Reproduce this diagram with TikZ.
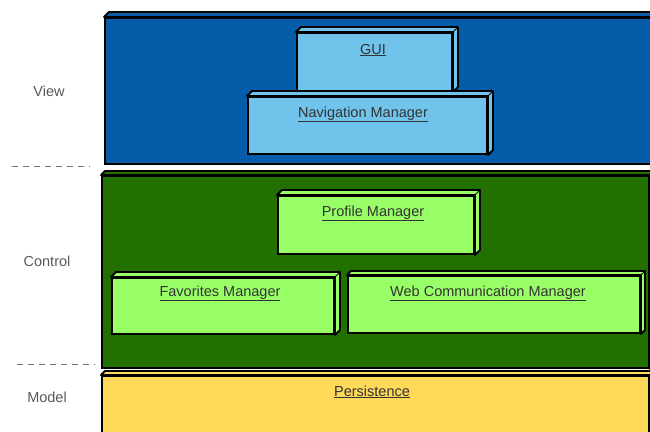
\documentclass[tikz,border=0pt]{standalone}
\usepackage{fontspec}
\setmainfont{Liberation Sans}
\definecolor{viewblue}{RGB}{5,92,168}
\definecolor{partblue}{RGB}{112,196,236}
\definecolor{ctrlgreen}{RGB}{34,112,0}
\definecolor{partgreen}{RGB}{153,255,102}
\definecolor{modelyellow}{RGB}{255,217,90}
\tikzset{
  layer/.style={draw=black, line width=2.2pt, anchor=north west, inner sep=0pt},
  part/.style={draw=black, line width=2pt, anchor=north west, inner sep=0pt},
  partlabel/.style={font=\fontsize{14.5}{17}\selectfont, text=black!80, anchor=base},
  side/.style={font=\fontsize{14.5}{17}\selectfont, text=black!65},
  sep/.style={dash pattern=on 6pt off 5pt, line width=1pt, draw=black!55}
}
% depth faces (top and right) of a 3D box node: #1 node, #2 depth, #3 fill
\newcommand\boxdepth[3]{%
  \filldraw[fill=#3, draw=black, line width=1.8pt, line join=round]
    (#1.north west) -- ++(#2,-#2) -- ([shift={(#2,-#2)}]#1.north east)
    -- ([shift={(#2,-#2)}]#1.south east) -- (#1.south east) -- (#1.north east) -- cycle;
  \draw[line width=1pt] (#1.north east) -- ++(#2,-#2);
}
\begin{document}
\begin{tikzpicture}[x=1pt,y=-1pt]
\useasboundingbox (0,0) rectangle (650,431);
\clip (0,0) rectangle (650,431);
\fill[white] (0,0) rectangle (650,431);

% layer boxes
\node[layer, fill=viewblue, minimum width=560pt, minimum height=146pt] (view) at (104,17) {};
\boxdepth{view}{5}{viewblue}
\node[layer, fill=ctrlgreen, minimum width=547pt, minimum height=192pt] (control) at (101,175) {};
\boxdepth{control}{4}{ctrlgreen}
\node[layer, fill=modelyellow, minimum width=547pt, minimum height=70pt] (model) at (101,375) {};
\boxdepth{model}{4}{modelyellow}

% view components
\node[part, fill=partblue, minimum width=155pt, minimum height=58pt] (gui) at (296,32) {};
\boxdepth{gui}{5}{partblue}
\node[part, fill=partblue, minimum width=239pt, minimum height=57pt] (nav) at (247,96) {};
\boxdepth{nav}{5}{partblue}

% control components
\node[part, fill=partgreen, minimum width=196pt, minimum height=58pt] (profile) at (277,195) {};
\boxdepth{profile}{5}{partgreen}
\node[part, fill=partgreen, minimum width=222pt, minimum height=56pt] (fav) at (111,277) {};
\boxdepth{fav}{5}{partgreen}
\node[part, fill=partgreen, minimum width=292pt, minimum height=57pt] (web) at (347,275) {};
\boxdepth{web}{4}{partgreen}

% component labels
\node[partlabel] (guiT) at (373,54) {\underline{GUI}};
\node[partlabel] (navT) at (363,117) {\underline{Navigation Manager}};
\node[partlabel] (profileT) at (373,216) {\underline{Profile Manager}};
\node[partlabel] (favT) at (220,296) {\underline{Favorites Manager}};
\node[partlabel] (webT) at (488,296) {\underline{Web Communication Manager}};
\node[partlabel] (persT) at (372,396) {\underline{Persistence}};

% layer names and separators
\node[side] (viewT) at (49,91) {View};
\node[side] (controlT) at (47,261) {Control};
\node[side] (modelT) at (47,397) {Model};
\coordinate (s1a) at (12,166);
\coordinate (s1b) at (90,166);
\coordinate (s2a) at (17,364);
\coordinate (s2b) at (95,364);
\draw[sep] (s1a) -- (s1b);
\draw[sep] (s2a) -- (s2b);
\end{tikzpicture}
\end{document}
